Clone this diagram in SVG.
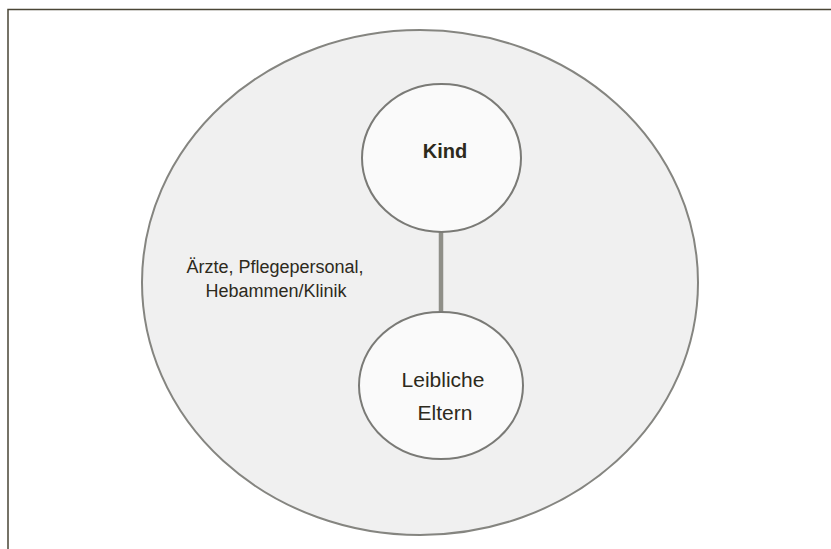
<svg xmlns="http://www.w3.org/2000/svg" width="831" height="549" viewBox="0 0 831 549">
<style>
.inner{fill:#fafafa;stroke:#7a7a76;stroke-width:2}
.lbl{font-family:"Liberation Sans",Arial,sans-serif;fill:#2d2a1c;text-anchor:middle}
</style>
<rect x="0" y="0" width="831" height="549" fill="#ffffff"/>
<rect x="8" y="9.5" width="840" height="560" fill="none" stroke="#4a4636" stroke-width="1.5"/>
<g id="outer">
<ellipse cx="420" cy="282.5" rx="278" ry="252.5" fill="#f0f0f0" stroke="#858580" stroke-width="2"/>
<text class="lbl" font-size="18" x="275" y="273">Ärzte, Pflegepersonal,</text>
<text class="lbl" font-size="18" x="276" y="297">Hebammen/Klinik</text>
</g>
<g id="connectors">
<line x1="441" y1="232" x2="441" y2="312" stroke="#8f8f88" stroke-width="4.5"/>
</g>
<g id="kind">
<ellipse class="inner" cx="441.5" cy="158" rx="79.5" ry="74"/>
<text class="lbl" font-size="20" font-weight="bold" x="445" y="158">Kind</text>
</g>
<g id="eltern">
<ellipse class="inner" cx="441" cy="385.5" rx="82" ry="73.5"/>
<text class="lbl" font-size="21" x="443" y="387">Leibliche</text>
<text class="lbl" font-size="21" x="445" y="420">Eltern</text>
</g>
</svg>
